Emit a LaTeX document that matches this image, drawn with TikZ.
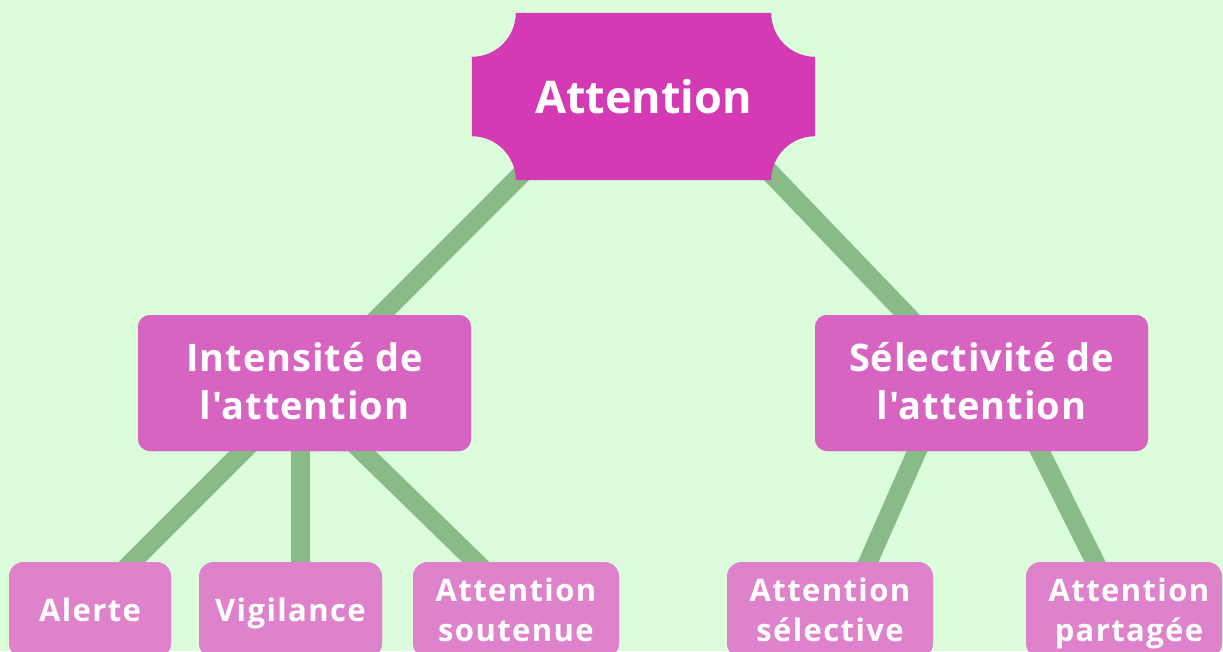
\documentclass[tikz,border=0pt]{standalone}
\usepackage{fontspec}
\setmainfont{Open Sans}[BoldFont={* Bold},Ligatures=TeXOff]
\newfontfamily\midfont{Open Sans}[BoldFont={* Bold},Ligatures=TeXOff,LetterSpace=2.5]
\newfontfamily\leaffont{Open Sans}[BoldFont={* Bold},Ligatures=TeXOff,LetterSpace=4.5]
\usetikzlibrary{calc}
\definecolor{bgc}{RGB}{220,253,220}
\definecolor{rootc}{RGB}{211,58,180}
\definecolor{midc}{RGB}{215,100,192}
\definecolor{leafc}{RGB}{222,130,203}
\definecolor{linec}{RGB}{136,187,136}
\tikzset{
  conn/.style={draw=linec,line width=19pt},
  midbox/.style={fill=midc,rounded corners=12pt,text=white,align=center,
    minimum height=136pt,inner sep=0pt,font=\midfont\bfseries\fontsize{38}{48}\selectfont},
  leafbox/.style={fill=leafc,rounded corners=15pt,text=white,align=center,
    minimum height=96pt,inner sep=0pt,font=\leaffont\bfseries\fontsize{31}{40}\selectfont},
  rootbox/.style={minimum width=343pt,minimum height=167pt,inner sep=0pt,text=white,
    font=\bfseries\fontsize{45}{54}\selectfont},
  lbl/.style={text=white,align=center,inner sep=0pt,yshift=-3pt},
  midtxt/.style={font=\midfont\bfseries\fontsize{38}{48}\selectfont},
  leaftxt/.style={font=\leaffont\bfseries\fontsize{31}{40}\selectfont}
}
\begin{document}
\begin{tikzpicture}[x=1pt,y=-1pt]
\clip (0,0) rectangle (1223,651);
\fill[bgc] (0,0) rectangle (1223,651);
% boxes
\path (643.5,96.5) node[rootbox] (root) {};
\path (304.5,383) node[midbox,minimum width=333pt] (midL) {};
\path (981.5,383) node[midbox,minimum width=333pt] (midR) {};
\path (90,610) node[leafbox,minimum width=162pt] (alerte) {};
\path (290.5,610) node[leafbox,minimum width=183pt] (vigil) {};
\path (516,610) node[leafbox,minimum width=206pt] (souten) {};
\path (830,610) node[leafbox,minimum width=206pt] (select) {};
\path (1124,610) node[leafbox,minimum width=196pt] (partag) {};
% connectors
\draw[conn] ($(root.center)+(-44.5,0)$) -- ($(midL.center)+(8.5,0)$);
\draw[conn] ($(root.center)+(53.5,0)$) -- ($(midR.center)+(-9.5,0)$);
\draw[conn] ($(midL.center)+(6.5,0)$) -- ($(alerte.center)+(-6,0)$);
\draw[conn] ($(midL.center)+(-4.5,0)$) -- ($(vigil.center)+(9.5,0)$);
\draw[conn] ($(midL.center)+(-12.5,0)$) -- ($(souten.center)+(9,0)$);
\draw[conn] ($(midR.center)+(-34.5,0)$) -- ($(select.center)+(17,0)$);
\draw[conn] ($(midR.center)+(24.5,0)$) -- ($(partag.center)+(-5,0)$);
% root shape with concave corners
\fill[rootc] ($(root.north west)+(44,0)$) -- ($(root.north east)+(-44,0)$)
  arc[start angle=180,end angle=90,radius=44]
  -- ($(root.south east)+(0,-44)$)
  arc[start angle=270,end angle=180,radius=44]
  -- ($(root.south west)+(44,0)$)
  arc[start angle=360,end angle=270,radius=44]
  -- ($(root.north west)+(0,44)$)
  arc[start angle=90,end angle=0,radius=44] -- cycle;
\node[rootbox] at (root.center) {Attention};
% boxes over connectors
\node[midbox,minimum width=333pt] at (midL.center) {};
\node[midbox,minimum width=333pt] at (midR.center) {};
\node[leafbox,minimum width=162pt] at (alerte.center) {};
\node[leafbox,minimum width=183pt] at (vigil.center) {};
\node[leafbox,minimum width=206pt] at (souten.center) {};
\node[leafbox,minimum width=206pt] at (select.center) {};
\node[leafbox,minimum width=196pt] at (partag.center) {};
% labels
\begin{scope}[every node/.append style={lbl}]
\node[midtxt] at (midL.center) {Intensité de\strut\\l'attention\strut};
\node[midtxt] at (midR.center) {Sélectivité de\strut\\l'attention\strut};
\node[leaftxt] at (alerte.center) {Alerte\strut};
\node[leaftxt] at (vigil.center) {Vigilance\strut};
\node[leaftxt] at (souten.center) {Attention\strut\\soutenue\strut};
\node[leaftxt] at (select.center) {Attention\strut\\sélective\strut};
\node[leaftxt,xshift=5pt] at (partag.center) {Attention\strut\\partagée\strut};
\end{scope}
\end{tikzpicture}
\end{document}
